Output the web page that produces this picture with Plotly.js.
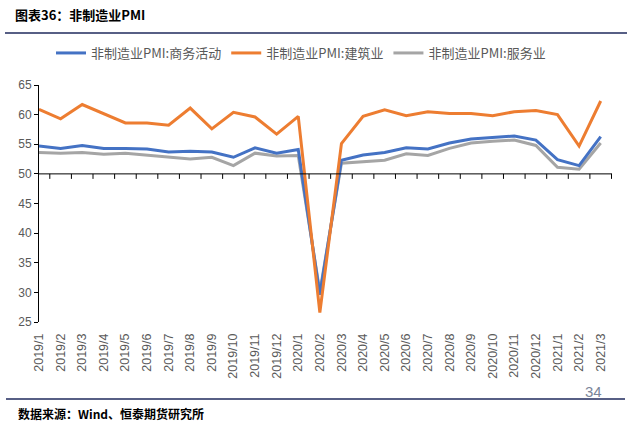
<!DOCTYPE html>
<html>
<head>
<meta charset="utf-8">
<script src="https://cdn.plot.ly/plotly-3.0.1.min.js"></script>
<style>
  html, body { margin: 0; padding: 0; background: #fff; }
  #chart { width: 632px; height: 427px; }
</style>
</head>
<body>
<div id="chart"></div>
<script>
// months on the x axis
const months = ['2019/1','2019/2','2019/3','2019/4','2019/5','2019/6','2019/7','2019/8','2019/9','2019/10','2019/11','2019/12',
  '2020/1','2020/2','2020/3','2020/4','2020/5','2020/6','2020/7','2020/8','2020/9','2020/10','2020/11','2020/12',
  '2021/1','2021/2','2021/3'];

// 非制造业PMI series
const business = [54.7,54.3,54.8,54.3,54.3,54.2,53.7,53.8,53.7,52.8,54.4,53.5,
  54.1,29.6,52.3,53.2,53.6,54.4,54.2,55.2,55.9,56.2,56.4,55.7,
  52.4,51.4,56.3];
const construction = [60.9,59.3,61.7,60.1,58.6,58.6,58.2,61.1,57.6,60.4,59.6,56.7,
  59.7,26.6,55.1,59.7,60.8,59.8,60.5,60.2,60.2,59.8,60.5,60.7,
  60.0,54.7,62.3];
const services = [53.6,53.5,53.6,53.3,53.5,53.2,52.9,52.5,52.8,51.4,53.5,53.0,
  53.1,30.1,51.8,52.1,52.3,53.4,53.1,54.3,55.2,55.5,55.7,54.8,
  51.1,50.8,55.2];

const names = ['非制造业PMI:商务活动', '非制造业PMI:建筑业', '非制造业PMI:服务业'];
const colors = ['#4472C4', '#ED7D31', '#A5A5A5'];

const cjk = '"Noto Sans CJK SC", "Microsoft YaHei", sans-serif';
const gray = '#595959';

// plot area in pixels, used to place the page furniture
const L = 39, R = 612, T = 85, B = 322;
const px = x => (x - L) / (R - L);
const py = y => (B - y) / (B - T);

var traces = [business, construction, services].map((vals, i) => ({
  x: months,
  y: vals,
  type: 'scatter',
  mode: 'lines',
  name: names[i],
  line: { color: colors[i], width: 3 }
}));
// draw gray first so blue sits on top like the original
traces = [traces[2], traces[0], traces[1]];
traces[0].legendrank = 3; traces[1].legendrank = 1; traces[2].legendrank = 2;

// axis line at 50 with ticks on the category boundaries
var shapes = [{
  type: 'line', xref: 'paper', yref: 'y', x0: 0, x1: 1, y0: 50, y1: 50,
  line: { color: '#000', width: 1 }
}];
for (let i = 1; i <= months.length; i++) {
  shapes.push({
    type: 'line', xref: 'x', yref: 'y', ysizemode: 'pixel', yanchor: 50,
    x0: i - 0.5, x1: i - 0.5, y0: 0, y1: -5,
    line: { color: '#000', width: 1 }
  });
}
// header and footer rules
shapes.push({ type: 'line', xref: 'paper', yref: 'paper', x0: px(5), x1: px(627), y0: py(33), y1: py(33),
  line: { color: '#1F2A5C', width: 1.5 } });
shapes.push({ type: 'line', xref: 'paper', yref: 'paper', x0: px(6), x1: px(625), y0: py(399), y1: py(399),
  line: { color: '#1F2A5C', width: 1.5 } });

var layout = {
  width: 632,
  height: 427,
  margin: { l: L, r: 632 - R, t: T, b: 427 - B },
  paper_bgcolor: '#fff',
  plot_bgcolor: '#fff',
  showlegend: true,
  title: {
    text: '<b>图表36：非制造业PMI</b>',
    xref: 'container', yref: 'container',
    x: 15 / 632, xanchor: 'left', y: 1 - 15 / 427, yanchor: 'middle',
    font: { family: cjk, size: 13, color: '#000' }
  },
  legend: {
    orientation: 'h',
    x: px(51), xanchor: 'left',
    y: py(53), yanchor: 'middle',
    font: { family: cjk, size: 13, color: gray },
    bgcolor: 'rgba(0,0,0,0)'
  },
  xaxis: {
    type: 'category',
    showline: false,
    showgrid: false,
    zeroline: false,
    ticks: '',
    tickangle: -90,
    ticklabelstandoff: 8,
    tickfont: { family: 'Liberation Sans, Arial, sans-serif', size: 12.5, color: gray },
    fixedrange: true
  },
  yaxis: {
    range: [25, 65],
    dtick: 5,
    showline: true,
    linecolor: '#000',
    linewidth: 1,
    ticks: 'outside',
    ticklen: 4,
    tickcolor: '#000',
    showgrid: false,
    zeroline: false,
    tickfont: { family: 'Liberation Sans, Arial, sans-serif', size: 12, color: gray },
    fixedrange: true
  },
  shapes: shapes,
  annotations: [
    {
      text: '<b>数据来源：Wind、恒泰期货研究所</b>',
      xref: 'paper', yref: 'paper', x: px(16), y: py(413),
      xanchor: 'left', yanchor: 'middle', showarrow: false,
      font: { family: cjk, size: 12, color: '#000' }
    },
    {
      text: '34',
      xref: 'paper', yref: 'paper', x: px(593), y: py(391),
      xanchor: 'center', yanchor: 'middle', showarrow: false,
      font: { family: 'Liberation Sans, Arial, sans-serif', size: 15, color: '#7A8599' }
    }
  ]
};

Plotly.newPlot('chart', traces, layout, { displayModeBar: false, staticPlot: true });
</script>
</body>
</html>
